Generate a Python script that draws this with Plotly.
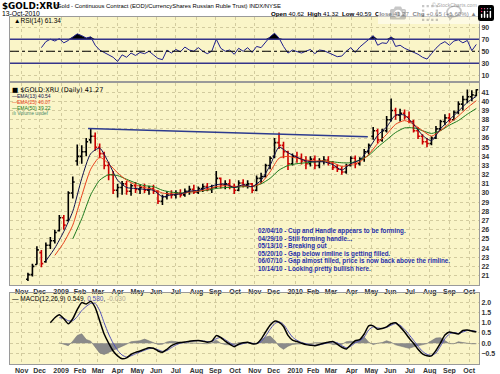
import plotly.graph_objects as go
import pandas as pd

# ---------------- data (weekly samples) ----------------
week_dates = pd.date_range("2008-11-12", periods=101, freq="7D")  # Wednesdays

opens = [20.6, 21.1, 22.2, 23.5, 22.5, 24.3, 24.8, 25.9, 27.3, 27.0,
         30.0, 33.5, 34.0, 34.5, 35.8, 36.2, 35.0, 34.3, 33.0, 32.0,
         30.3, 30.6, 31.0, 30.2, 30.8, 30.4, 30.6, 30.3, 30.5, 30.2,
         29.1, 29.6, 29.9, 29.8, 30.0, 29.8, 30.2, 30.4, 30.1, 30.5,
         30.7, 30.4, 30.6, 31.6, 30.9, 31.0, 30.7, 30.3, 31.1, 30.9,
         31.0, 30.3, 31.6, 31.8, 33.0, 34.0, 35.5, 35.2, 34.5, 33.2,
         34.0, 33.8, 33.5, 33.2, 33.7, 33.0, 33.5, 33.6, 33.3, 32.8,
         32.6, 32.3, 33.0, 33.8, 33.2, 33.7, 34.5, 36.2, 36.8, 35.8,
         36.8, 38.0, 39.0, 38.5, 38.7, 38.3, 37.8, 36.8, 36.2, 35.6,
         35.4, 36.0, 37.0, 37.8, 38.2, 38.0, 38.8, 39.7, 40.2, 40.5,
         40.62]
highs = [21.3, 22.3, 24.2, 23.8, 24.6, 25.2, 26.0, 27.6, 27.6, 30.2,
         31.8, 35.3, 35.2, 36.0, 37.1, 36.6, 35.4, 34.5, 33.4, 32.4,
         31.0, 31.3, 31.3, 31.0, 31.2, 30.9, 31.0, 30.8, 30.9, 30.3,
         29.8, 30.2, 30.3, 30.3, 30.4, 30.5, 30.8, 30.9, 30.7, 31.0,
         31.1, 30.9, 32.4, 31.7, 31.4, 31.5, 31.0, 31.4, 31.5, 31.4,
         31.1, 31.9, 32.2, 33.2, 34.0, 36.0, 36.6, 35.6, 34.6, 34.3,
         34.5, 34.3, 34.0, 34.0, 34.1, 33.8, 34.0, 34.0, 33.5, 33.1,
         32.9, 33.2, 34.0, 34.1, 33.9, 34.8, 35.4, 37.2, 37.0, 37.0,
         38.4, 40.3, 39.3, 39.2, 39.1, 38.9, 38.0, 37.2, 36.4, 36.0,
         36.2, 37.3, 38.0, 38.6, 38.7, 39.0, 40.0, 40.6, 41.3, 41.2,
         41.32]
lows = [20.4, 20.9, 22.2, 21.9, 22.4, 23.9, 24.5, 25.8, 26.0, 26.9,
        29.4, 33.0, 33.2, 34.0, 35.4, 34.6, 33.8, 32.6, 31.4, 29.9,
        29.5, 29.8, 29.8, 29.7, 30.0, 29.9, 30.0, 29.8, 29.9, 28.8,
        28.7, 29.3, 29.4, 29.4, 29.5, 29.6, 29.8, 29.9, 29.9, 30.1,
        30.2, 30.0, 30.5, 30.5, 30.4, 30.4, 29.9, 30.2, 30.6, 30.5,
        30.0, 30.2, 31.0, 31.7, 32.6, 33.8, 34.8, 33.8, 32.5, 33.0,
        33.3, 33.1, 32.6, 32.9, 32.6, 32.7, 33.1, 33.0, 32.5, 32.3,
        32.0, 32.1, 32.9, 32.7, 33.0, 33.4, 34.2, 35.8, 35.4, 35.6,
        36.6, 37.8, 38.0, 37.8, 38.0, 37.6, 36.6, 35.9, 35.3, 35.0,
        35.2, 35.9, 36.8, 37.4, 37.7, 37.9, 38.6, 39.0, 39.8, 40.0,
        40.59]
closes = [21.1, 22.0, 23.8, 22.3, 24.3, 24.8, 25.7, 27.3, 26.5, 30.0,
          31.2, 34.0, 34.5, 35.6, 36.2, 35.0, 34.3, 33.0, 32.0, 30.3,
          30.6, 31.0, 30.2, 30.8, 30.4, 30.6, 30.3, 30.5, 30.2, 29.1,
          29.6, 29.9, 29.8, 30.0, 29.8, 30.2, 30.4, 30.1, 30.5, 30.7,
          30.4, 30.6, 31.6, 30.9, 31.0, 30.7, 30.3, 31.1, 30.9, 31.0,
          30.3, 31.6, 31.8, 33.0, 33.8, 35.5, 35.2, 34.5, 33.2, 34.0,
          33.8, 33.5, 33.2, 33.7, 33.0, 33.5, 33.6, 33.3, 32.8, 32.6,
          32.3, 33.0, 33.8, 33.2, 33.7, 34.5, 35.2, 36.8, 35.8, 36.8,
          38.0, 39.0, 38.5, 38.7, 38.3, 37.8, 36.8, 36.2, 35.6, 35.4,
          36.0, 37.0, 37.8, 38.2, 38.0, 38.8, 39.7, 40.2, 40.5, 40.7,
          41.27]

# EMAs sampled every second week (starting week index noted)
ema13_start = 4
ema13 = [22.6, 24.0, 25.8, 28.0, 31.6, 34.3, 34.9, 33.3, 31.4, 30.6, 30.5, 30.4, 30.3,
         29.6, 29.8, 29.9, 30.2, 30.3, 30.6, 30.9, 31.0, 30.6, 30.9, 30.7, 31.4, 33.0,
         35.0, 34.4, 33.9, 33.5, 33.4, 33.4, 33.1, 32.5, 33.2, 33.6, 34.8, 36.3, 37.2,
         38.5, 38.5, 37.5, 36.3, 35.7, 37.0, 38.0, 38.9, 39.9, 40.54]
ema25_start = 6
ema25 = [23.2, 24.6, 26.5, 29.7, 32.6, 33.9, 33.2, 32.2, 31.4, 30.9, 30.6, 30.4, 30.0,
         29.9, 29.9, 30.1, 30.2, 30.4, 30.7, 30.8, 30.7, 30.8, 30.7, 31.1, 32.3, 33.8,
         34.0, 33.8, 33.6, 33.5, 33.5, 33.3, 32.9, 33.1, 33.4, 34.2, 35.4, 36.4, 37.5,
         37.9, 37.5, 36.8, 36.2, 36.8, 37.6, 38.4, 39.3, 40.07]
ema50_start = 10
ema50 = [25.0, 27.2, 29.8, 31.4, 32.0, 31.9, 31.5, 31.1, 30.8, 30.7, 30.3, 30.1, 30.0,
         30.1, 30.2, 30.3, 30.5, 30.6, 30.6, 30.7, 30.7, 31.0, 31.6, 32.5, 33.0, 33.2,
         33.3, 33.4, 33.5, 33.4, 33.3, 33.3, 33.6, 34.1, 35.0, 35.8, 36.6, 37.1, 37.1,
         36.8, 36.5, 36.8, 37.4, 37.9, 38.6, 39.22]

rim_dates = ["2009-02-13", "2010-04-27"]
rim_values = [37.05, 36.15]

rsi_start = 3
rsi = [56, 66, 70, 67, 71, 64, 68, 74, 79, 76,
       72, 74, 60, 52, 48, 45, 40, 33, 44, 40,
       47, 43, 48, 46, 50, 44, 38, 36, 52, 47,
       53, 49, 57, 52, 50, 56, 50, 46, 50, 70,
       55, 50, 52, 45, 55, 50, 56, 48, 58, 56,
       65, 74, 80, 72, 58, 47, 52, 50, 47, 50,
       53, 46, 52, 51, 48, 44, 41, 42, 50, 56,
       48, 57, 63, 69, 76, 60, 64, 63, 74, 58,
       60, 55, 52, 48, 45, 40, 37, 46, 55, 62,
       66, 60, 67, 69, 64, 68, 51, 61.34]

macd_start = 5
macd = [1.00, 1.25, 1.40, 1.20, 0.95, 1.20, 1.65, 1.99, 1.92, 2.05,
        1.75, 1.10, 0.45, 0.00, -0.38, -0.62, -0.76, -0.72, -0.55, -0.45,
        -0.38, -0.30, -0.22, -0.25, -0.38, -0.44, -0.30, -0.12, -0.02, 0.03,
        0.06, 0.10, 0.12, 0.13, 0.10, 0.05, 0.10, 0.37, 0.28, 0.10,
        -0.05, -0.17, -0.05, 0.02, 0.05, -0.03, -0.02, 0.20, 0.55, 0.88,
        1.08, 1.02, 0.82, 0.38, 0.15, 0.08, 0.00, -0.07, -0.10, -0.12,
        -0.06, 0.00, 0.05, 0.08, -0.05, -0.20, -0.28, -0.08, 0.12, 0.18,
        0.45, 0.85, 0.85, 0.68, 0.72, 0.80, 0.95, 1.00, 0.80, 0.55,
        0.25, 0.00, -0.30, -0.52, -0.62, -0.62, -0.36, 0.00, 0.40, 0.55,
        0.50, 0.45, 0.62, 0.65, 0.60, 0.549]
signal_start = 7
signal = [1.25, 1.22, 1.10, 1.10, 1.30, 1.60, 1.80, 1.95,
          1.95, 1.60, 1.00, 0.45, 0.00, -0.35, -0.58, -0.68, -0.62, -0.52,
          -0.43, -0.35, -0.27, -0.25, -0.32, -0.40, -0.36, -0.22, -0.09, 0.00,
          0.04, 0.08, 0.11, 0.12, 0.11, 0.08, 0.08, 0.22, 0.28, 0.17,
          0.03, -0.10, -0.08, -0.02, 0.03, 0.00, -0.02, 0.08, 0.35, 0.68,
          0.95, 1.05, 0.92, 0.60, 0.30, 0.14, 0.04, -0.03, -0.08, -0.10,
          -0.08, -0.03, 0.02, 0.06, 0.02, -0.12, -0.22, -0.15, 0.02, 0.12,
          0.30, 0.65, 0.80, 0.75, 0.72, 0.77, 0.88, 0.96, 0.88, 0.68,
          0.42, 0.14, -0.15, -0.40, -0.55, -0.60, -0.48, -0.15, 0.22, 0.45,
          0.52, 0.48, 0.55, 0.62, 0.61, 0.580]
hist_start = 7
hist = [0.02, -0.05, -0.12, 0.10, 0.38, 0.46, 0.18, 0.10,
        -0.20, -0.48, -0.55, -0.45, -0.38, -0.27, -0.18, -0.05, 0.07, 0.10,
        0.12, 0.20, 0.12, 0.05, -0.06, -0.05, 0.06, 0.10, 0.07, 0.03,
        0.02, 0.02, 0.01, 0.01, -0.01, -0.03, 0.02, 0.15, 0.00, -0.07,
        -0.08, -0.07, 0.03, 0.04, 0.02, -0.03, 0.00, 0.15, 0.30, 0.35,
        0.15, -0.15, -0.30, -0.15, -0.06, -0.04, -0.04, -0.02, -0.02, 0.02,
        0.03, 0.03, 0.02, -0.07, -0.08, -0.06, 0.07, 0.10, 0.06, 0.20,
        0.30, 0.05, -0.07, 0.00, 0.03, 0.12, 0.04, -0.08, -0.13, -0.20,
        -0.25, -0.18, -0.12, -0.07, -0.02, 0.12, 0.25, 0.27, 0.12, -0.02,
        -0.03, 0.07, 0.03, -0.01, -0.03, -0.03]

tick_dates = ["2008-11-03", "2008-12-01", "2009-01-02", "2009-02-02", "2009-03-02",
              "2009-04-01", "2009-05-01", "2009-06-01", "2009-07-01", "2009-08-03",
              "2009-09-01", "2009-10-01", "2009-11-02", "2009-12-01", "2010-01-04",
              "2010-02-01", "2010-03-01", "2010-04-01", "2010-05-03", "2010-06-01",
              "2010-07-01", "2010-08-02", "2010-09-01", "2010-10-01"]
tick_text = ["Nov", "Dec", "2009", "Feb", "Mar", "Apr", "May", "Jun", "Jul", "Aug",
             "Sep", "Oct", "Nov", "Dec", "2010", "Feb", "Mar", "Apr", "May", "Jun",
             "Jul", "Aug", "Sep", "Oct"]

notes = ["02/04/10 - Cup and Handle appears to be forming.",
         "04/29/10 - Still forming handle...",
         "05/13/10 - Breaking out",
         "05/20/10 - Gap below rimline is getting filled.",
         "06/07/10 - Gap almost filled, price is now back above the rimline.",
         "10/14/10 - Looking pretty bullish here."]

# ---------------- styling ----------------
W, H = 500, 374
BG = "#FAF5C8"
GRID = "#D2CB9E"
BORDER = "#9A9A9A"
FONT = "Liberation Sans"
WIDE = "DejaVu Sans"
X0, X1 = 10, 479
x_dom = [X0 / W, X1 / W]


def ydom(top, bottom):
    return [1 - bottom / H, 1 - top / H]


def sub(lst, start, step=1):
    return list(week_dates[start::step][:len(lst)])


fig = go.Figure()

# RSI panel
rx = sub(rsi, rsi_start)
fig.add_trace(go.Scatter(x=rx, y=[70] * len(rx), mode="lines", line=dict(width=0),
                         xaxis="x", yaxis="y", hoverinfo="skip", showlegend=False))
fig.add_trace(go.Scatter(x=rx, y=[max(v, 70) for v in rsi], mode="lines", fill="tonexty",
                         fillcolor="#000000", line=dict(width=0), xaxis="x", yaxis="y",
                         showlegend=False))
fig.add_trace(go.Scatter(x=rx, y=rsi, mode="lines", line=dict(color="#1F1F8C", width=1),
                         xaxis="x", yaxis="y", showlegend=False))

# Price panel
fig.add_trace(go.Ohlc(x=list(week_dates), open=opens, high=highs, low=lows, close=closes,
                      increasing=dict(line=dict(color="#000000", width=1.6)),
                      decreasing=dict(line=dict(color="#CC0000", width=1.6)),
                      tickwidth=0.3, xaxis="x2", yaxis="y2", showlegend=False))
fig.add_trace(go.Scatter(x=sub(ema50, ema50_start, 2), y=ema50, mode="lines",
                         line=dict(color="#1E7A1E", width=1, shape="spline", smoothing=0.6),
                         xaxis="x2", yaxis="y2", showlegend=False))
fig.add_trace(go.Scatter(x=sub(ema25, ema25_start, 2), y=ema25, mode="lines",
                         line=dict(color="#E8401C", width=1, shape="spline", smoothing=0.6),
                         xaxis="x2", yaxis="y2", showlegend=False))
fig.add_trace(go.Scatter(x=sub(ema13, ema13_start, 2), y=ema13, mode="lines",
                         line=dict(color="#10104A", width=1, shape="spline", smoothing=0.6),
                         xaxis="x2", yaxis="y2", showlegend=False))
fig.add_trace(go.Scatter(x=rim_dates, y=rim_values, mode="lines",
                         line=dict(color="#2C3A8E", width=1.5),
                         xaxis="x2", yaxis="y2", showlegend=False))

# MACD panel
fig.add_trace(go.Scatter(x=sub(hist, hist_start), y=hist, mode="lines", fill="tozeroy",
                         fillcolor="#8A8A8A", line=dict(color="#777777", width=0.6),
                         xaxis="x3", yaxis="y3", showlegend=False))
fig.add_trace(go.Scatter(x=sub(signal, signal_start), y=signal, mode="lines",
                         line=dict(color="#5050B8", width=1, shape="spline", smoothing=0.6),
                         xaxis="x3", yaxis="y3", showlegend=False))
fig.add_trace(go.Scatter(x=sub(macd, macd_start), y=macd, mode="lines",
                         line=dict(color="#000000", width=1.5, shape="spline", smoothing=0.6),
                         xaxis="x3", yaxis="y3", showlegend=False))

rb = [dict(bounds=["sat", "mon"])]
xr = ["2008-10-15", "2010-10-18"]
tickfont = dict(family=FONT, size=7, color="#333333", weight="bold")


def xax(anchor, labels):
    return dict(domain=x_dom, anchor=anchor, range=xr, rangebreaks=rb,
                tickmode="array", tickvals=tick_dates, ticktext=tick_text,
                showticklabels=labels, tickfont=tickfont, ticks="", ticklen=0,
                showgrid=True, gridcolor=GRID, griddash="dot", gridwidth=1,
                showline=True, mirror=True, linecolor=BORDER, linewidth=1,
                zeroline=False, rangeslider=dict(visible=False), fixedrange=True)


def yax(anchor, dom, rng, vals, fmt=None):
    d = dict(domain=dom, anchor=anchor, range=rng, side="right",
             tickmode="array", tickvals=vals, tickfont=tickfont, ticks="", ticklen=0,
             showgrid=True, gridcolor=GRID, griddash="dot", gridwidth=1,
             showline=True, mirror=True, linecolor=BORDER, linewidth=1,
             zeroline=False, fixedrange=True)
    if fmt:
        d["tickformat"] = fmt
    return d


fig.update_layout(
    width=W, height=H, margin=dict(l=0, r=0, t=0, b=0),
    paper_bgcolor="white", plot_bgcolor=BG, showlegend=False,
    xaxis=xax("y", False),
    xaxis2=xax("y2", True),
    xaxis3=xax("y3", True),
    yaxis=yax("x", ydom(17, 81), [0.5, 107], [10, 30, 50, 70, 90]),
    yaxis2=yax("x2", ydom(83, 285), [19.97, 42.0], list(range(21, 42))),
    yaxis3=yax("x3", ydom(293, 364), [-1.02, 2.46], [-0.5, 0.0, 0.5, 1.0, 1.5, 2.0], ".1f"),
)

# RSI reference lines
for lvl, col, dash, wd in [(70, "#34348A", "solid", 1.5), (30, "#34348A", "solid", 1.5),
                           (50, "#000000", "dashdot", 1)]:
    fig.add_shape(type="line", xref="x domain", yref="y", x0=0, x1=1, y0=lvl, y1=lvl,
                  line=dict(color=col, width=wd, dash=dash), layer="above")


def txt(x, y, text, size=6, color="#000000", anchor="left", bold=False, family=FONT):
    return dict(xref="paper", yref="paper", x=x / W, y=1 - y / H, text=text,
                xanchor=anchor, yanchor="middle", showarrow=False,
                font=dict(family=family, size=size, color=color,
                          weight="bold" if bold else "normal"))


ann = [
    txt(0, 6, "$GOLD:XRU", 8.8, bold=True, family=WIDE),
    txt(53, 6.5, "(Gold - Continuous Contract (EOD)/CurrencyShares Russian Ruble Trust) INDX/NYSE", 5.9),
    txt(0, 13.5, "13-Oct-2010", 6.8),
    txt(479, 4.5, "© StockCharts.com", 5.2, "#444444", anchor="right"),
    txt(479, 13.5, "<b>Open</b> 40.62  <b>High</b> 41.32  <b>Low</b> 40.59  <b>Close</b> 41.27  "
                   "<b>Chg</b> +0.65 (+1.60%) ▲", 6.2, anchor="right"),
    txt(12, 20.5, "▲RSI(14) 61.34", 6.5),
    txt(10, 90, "■ $GOLD:XRU (Daily) 41.27", 6.5, family=WIDE),
    txt(10, 95.8, "—EMA(13) 40.54", 5, "#10104A"),
    txt(10, 101.7, "—EMA(25) 40.07", 5, "#E8401C"),
    txt(10, 107.6, "—EMA(50) 39.22", 5, "#1E7A1E"),
    txt(10, 113.4, "ılı Volume undef", 5, "#4A8A6A"),
    txt(10, 298.5, "— MACD(12,26,9) 0.549, <span style='color:#5050B8'>0.580</span>, "
                   "<span style='color:#B0A890'>-0.030</span>", 6.5),
]
for i, line in enumerate(notes):
    ann.append(txt(256, 231 + 7.6 * i, line, 6.3, "#1F2FA8", bold=True))
fig.update_layout(annotations=ann)

fig.write_html("out.html", post_script="document.body.style.margin='0';")
